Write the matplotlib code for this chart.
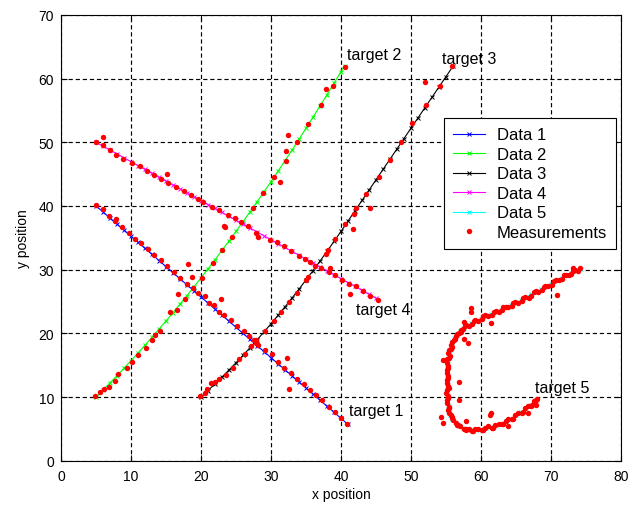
import matplotlib
matplotlib.use('Agg')
import matplotlib.pyplot as plt

plt.rcParams['font.family'] = ['Liberation Sans', 'DejaVu Sans']

# ---- estimated tracks (Data 1..5) ----
t1_x = [5, 6, 7, 8, 9, 10, 11, 12, 13, 14, 15, 16, 17, 18, 19, 20, 21, 22, 23, 24, 25,
        26, 27, 28, 29, 30, 31, 32, 33, 34, 35, 36, 37, 38, 39, 40, 41]
t1_y = [40.00, 39.05, 38.09, 37.14, 36.19, 35.24, 34.28, 33.33, 32.38, 31.42, 30.47,
        29.52, 28.56, 27.61, 26.66, 25.71, 24.75, 23.80, 22.85, 21.89, 20.94, 19.99,
        19.03, 18.08, 17.13, 16.18, 15.22, 14.27, 13.32, 12.36, 11.41, 10.46, 9.50,
        8.55, 7.60, 6.65, 5.69]

t2_x = [5, 6, 7, 8, 9, 10, 11, 12, 13, 14, 15, 16, 17, 18, 19, 20, 21, 22, 23, 24, 25,
        26, 27, 28, 29, 30, 31, 32, 33, 34, 35, 36, 37, 38, 39, 40, 40.5]
t2_y = [10.00, 11.10, 12.22, 13.36, 14.52, 15.70, 16.91, 18.13, 19.38, 20.65, 21.94,
        23.25, 24.58, 25.93, 27.31, 28.70, 30.12, 31.56, 33.02, 34.50, 36.00, 37.52,
        39.07, 40.63, 42.21, 43.82, 45.45, 47.10, 48.77, 50.45, 52.19, 53.92, 55.68,
        57.46, 59.26, 61.09, 62.00]

t3_x = [20, 21, 22, 23, 24, 25, 26, 27, 28, 29, 30, 31, 32, 33, 34, 35, 36, 37, 38, 39,
        40, 41, 42, 43, 44, 45, 46, 47, 48, 49, 50, 51, 52, 53, 54, 55, 56]
t3_y = [10.00, 11.02, 12.06, 13.14, 14.24, 15.38, 16.54, 17.74, 18.96, 20.22, 21.50,
        22.82, 24.16, 25.54, 26.94, 28.38, 29.84, 31.34, 32.86, 34.42, 36.00, 37.62,
        39.24, 40.86, 42.48, 44.10, 45.72, 47.34, 48.96, 50.58, 52.20, 53.82, 55.44,
        57.06, 58.68, 60.30, 61.92]

t4_x = [5, 6, 7, 8, 9, 10, 11, 12, 13, 14, 15, 16, 17, 18, 19, 20, 21, 22, 23, 24, 25,
        26, 27, 28, 29, 30, 31, 32, 33, 34, 35, 36, 37, 38, 39, 40, 41, 42, 43, 44, 45]
t4_y = [50.00, 49.39, 48.78, 48.16, 47.55, 46.94, 46.33, 45.72, 45.10, 44.49, 43.88,
        43.27, 42.66, 42.04, 41.43, 40.82, 40.21, 39.60, 38.98, 38.37, 37.76, 37.15,
        36.54, 35.92, 35.31, 34.70, 34.09, 33.48, 32.86, 32.25, 31.64, 31.03, 30.42,
        29.80, 29.19, 28.58, 27.97, 27.36, 26.74, 26.13, 25.52]

t5_x = [74.3, 73.6, 72.9, 72.2, 71.5, 70.8, 70.0, 69.3, 68.6, 67.9, 67.1, 66.4, 65.7,
        65.0, 64.3, 63.6, 62.9, 62.2, 61.4, 60.7, 60.0, 59.3, 58.6, 58.0, 57.5, 57.0,
        56.6, 56.2, 55.9, 55.7, 55.5, 55.4, 55.3, 55.2, 55.2, 55.2, 55.2, 55.2, 55.2,
        55.2, 55.2, 55.3, 55.4, 55.6, 55.9, 56.3, 56.8, 57.4, 58.0, 58.6, 59.3, 60.0,
        60.7, 61.4, 62.1, 62.9, 63.6, 64.3, 65.0, 65.7, 66.4, 67.1, 67.6, 68.0]
t5_y = [30.1, 29.8, 29.5, 29.1, 28.7, 28.3, 27.8, 27.4, 26.9, 26.5, 26.1, 25.6, 25.2,
        24.8, 24.4, 24.1, 23.7, 23.4, 23.0, 22.7, 22.3, 22.0, 21.6, 21.2, 20.8, 20.3,
        19.8, 19.2, 18.6, 17.9, 17.2, 16.5, 15.8, 15.0, 14.2, 13.4, 12.6, 11.8, 11.0,
        10.2, 9.4, 8.6, 7.9, 7.2, 6.6, 6.0, 5.5, 5.1, 4.9, 4.8, 4.8, 4.9, 5.1, 5.3,
        5.5, 5.8, 6.2, 6.6, 7.1, 7.6, 8.1, 8.7, 9.2, 9.6]

# ---- measurements ----
m1_x = [5.0, 6.0, 6.9, 7.7, 7.9, 8.7, 9.7, 10.5, 11.4, 12.4, 13.3, 14.3, 15.2, 16.2,
        17.0, 18.0, 18.2, 18.7, 19.5, 20.5, 21.2, 21.9, 22.6, 22.9, 23.3, 24.3, 25.2,
        26.2, 26.9, 27.6, 27.9, 28.2, 29.2, 30.1, 31.0, 31.9, 32.3, 32.6, 32.8, 33.7,
        34.7, 35.6, 36.4, 37.3, 38.3, 39.1, 40.0, 40.8]
m1_y = [40.2, 39.5, 38.4, 37.6, 37.9, 36.7, 35.8, 34.8, 34.2, 33.2, 32.3, 31.5, 30.5,
        29.6, 28.7, 27.8, 30.9, 28.9, 26.3, 25.8, 24.7, 24.5, 23.4, 25.4, 22.9, 22.1,
        21.2, 20.3, 19.6, 19.0, 18.5, 18.2, 17.4, 16.7, 15.5, 14.6, 16.1, 11.2, 13.7,
        12.9, 12.1, 11.1, 10.3, 9.5, 8.4, 7.7, 6.7, 5.8]

m2_x = [4.8, 5.6, 6.2, 6.8, 7.7, 8.1, 9.4, 10.1, 11.0, 12.2, 13.0, 13.4, 14.2, 15.5,
        16.6, 16.7, 17.7, 18.8, 20.2, 21.7, 23.0, 23.3, 24.4, 25.7, 27.4, 28.8, 30.4,
        31.3, 32.1, 32.2, 32.4, 33.7, 35.3, 37.1, 37.8, 38.8, 40.6]
m2_y = [10.1, 10.8, 11.2, 11.6, 12.5, 13.6, 14.5, 15.5, 16.6, 17.7, 18.9, 19.7, 20.4,
        23.3, 23.7, 26.1, 25.4, 27.1, 28.7, 31.1, 33.1, 36.8, 35.1, 37.4, 39.7, 42.1,
        44.6, 43.7, 47.1, 48.6, 51.1, 50.0, 52.9, 55.8, 58.3, 58.9, 61.8]

m3_x = [19.9, 20.5, 20.9, 21.4, 22.0, 22.6, 23.5, 24.5, 25.4, 26.3, 27.2, 27.9, 29.2,
        30.4, 31.4, 32.5, 33.7, 35.0, 35.3, 36.3, 37.8, 38.1, 39.2, 40.6, 41.7, 41.8,
        42.2, 43.6, 44.1, 45.4, 47.0, 48.6, 50.2, 52.0, 52.1, 54.1, 55.8]
m3_y = [10.1, 10.6, 11.3, 12.2, 12.4, 12.9, 13.5, 14.6, 15.9, 16.8, 18.0, 18.9, 20.4,
        21.9, 23.4, 24.9, 26.4, 28.3, 28.9, 30.5, 32.4, 33.0, 34.8, 37.1, 36.3, 38.7,
        39.7, 41.9, 39.6, 44.6, 47.2, 50.1, 53.0, 59.4, 55.9, 58.9, 61.9]

m4_x = [5.0, 6.0, 6.0, 7.0, 7.9, 8.9, 10.1, 11.3, 12.3, 13.3, 14.3, 15.1, 15.3, 16.4,
        17.5, 18.6, 19.5, 20.3, 21.6, 22.6, 23.4, 23.8, 24.8, 26.7, 27.9, 28.1, 29.8,
        30.8, 31.9, 32.9, 34.0, 34.9, 35.5, 37.1, 38.3, 38.4, 39.1, 40.1, 41.1, 41.3,
        42.1, 43.2, 44.2, 45.3]
m4_y = [50.1, 50.8, 49.5, 48.8, 48.0, 47.4, 46.8, 46.3, 45.5, 44.9, 44.2, 45.0, 43.6,
        42.9, 42.3, 41.7, 41.1, 40.6, 39.8, 39.4, 36.7, 38.6, 38.1, 36.8, 35.8, 35.1,
        34.7, 34.3, 33.7, 32.9, 32.2, 31.6, 31.2, 30.2, 29.7, 30.3, 29.1, 28.4, 27.7,
        26.1, 27.4, 26.6, 25.9, 25.3]

m5_x = [74.2, 73.4, 72.8, 72.1, 71.6, 70.7, 70.1, 69.2, 68.7, 67.8, 67.2, 66.3, 65.8,
        64.9, 64.4, 63.5, 63.0, 62.1, 61.5, 60.6, 60.1, 59.2, 58.7, 57.9, 57.4, 57.1,
        56.5, 56.3, 55.8, 55.8, 55.4, 55.5, 55.2, 55.3, 55.1, 55.3, 55.1, 55.3, 55.1,
        55.3, 55.1, 55.4, 55.3, 55.7, 55.8, 56.4, 56.7, 57.5, 57.9, 58.7, 59.2, 60.1,
        60.6, 61.5, 62.0, 63.0, 63.5, 64.4, 64.9, 65.8, 66.3, 67.2, 67.5, 68.0,
        73.1, 70.8, 58.5, 58.5, 57.5, 61.4, 57.5, 58.1, 54.5, 56.9, 56.8, 54.3, 54.5,
        57.8, 61.4, 61.3, 63.9, 66.7, 67.9,
        73.9, 73.2, 72.5, 71.8, 71.1, 70.4, 69.6, 69.0, 68.2, 67.5, 66.8, 66.0, 65.3,
        64.6, 63.9, 63.2, 62.5, 61.8, 61.0, 60.3, 59.6, 59.0, 58.3, 57.7, 57.2, 56.8,
        56.4, 56.1, 55.7, 55.7, 55.3, 55.4, 55.1, 55.3, 55.1, 55.3, 55.1, 55.4, 55.0,
        55.3, 55.1, 55.4, 55.4, 55.8, 56.0, 56.6, 57.0, 57.8, 58.3, 58.9, 59.6, 60.3,
        61.0, 61.7, 62.5, 63.2, 63.9, 64.6, 65.3, 66.0, 66.7, 67.3, 67.8]
m5_y = [30.2, 29.9, 29.3, 29.2, 28.5, 28.4, 27.6, 27.5, 26.8, 26.6, 25.9, 25.7, 25.1,
        24.9, 24.3, 24.2, 23.6, 23.5, 22.9, 22.8, 22.2, 22.1, 21.5, 21.3, 20.7, 20.2,
        19.9, 19.1, 18.7, 17.8, 17.3, 16.4, 15.9, 14.9, 14.3, 13.3, 12.7, 11.7, 11.1,
        10.1, 9.5, 8.5, 8.0, 7.1, 6.7, 5.9, 5.6, 5.0, 5.0, 4.7, 4.9, 4.8, 5.2, 5.2,
        5.6, 5.7, 6.3, 6.5, 7.2, 7.5, 8.2, 8.6, 9.3, 9.7,
        30.2, 26.0, 24.0, 23.4, 21.8, 21.6, 19.1, 18.5, 15.8, 12.4, 9.5, 6.9, 5.9,
        6.2, 7.5, 7.1, 5.4, 7.5, 8.7,
        29.8, 29.8, 29.1, 29.1, 28.3, 28.2, 27.4, 27.3, 26.5, 26.5, 25.6, 25.6, 24.8,
        24.8, 24.1, 24.1, 23.3, 23.4, 22.7, 22.7, 22.0, 22.0, 21.2, 21.2, 20.5, 20.1,
        19.5, 18.9, 18.2, 17.5, 16.9, 16.1, 15.4, 14.6, 13.8, 13.0, 12.2, 11.4, 10.6,
        9.8, 9.0, 8.2, 7.5, 6.8, 6.4, 5.6, 5.4, 4.8, 5.0, 4.6, 5.0, 4.8, 5.4, 5.2,
        5.8, 5.8, 6.6, 6.6, 7.5, 7.6, 8.6, 8.7, 9.5]

labels = ['Data 1', 'Data 2', 'Data 3', 'Data 4', 'Data 5']
colors = ['#0000ff', '#00ff00', '#000000', '#ff00ff', '#00ffff']

targets = ['target 1', 'target 2', 'target 3', 'target 4', 'target 5']
target_pos = [(41.2, 7.9), (40.8, 63.7), (54.5, 63.2), (42.2, 23.8), (67.7, 11.5)]

fig = plt.figure(figsize=(6.31, 5.06), dpi=100)
ax = fig.add_axes([61 / 631, 44.3 / 506, 560 / 631, 445.9 / 506])

tracks = [(t1_x, t1_y), (t2_x, t2_y), (t3_x, t3_y), (t4_x, t4_y), (t5_x, t5_y)]
for (tx, ty), c, lab in zip(tracks, colors, labels):
    ax.plot(tx, ty, color=c, lw=0.8, marker='x', ms=3.2, mew=0.7, label=lab, zorder=3)

mx = m1_x + m2_x + m3_x + m4_x + m5_x
my = m1_y + m2_y + m3_y + m4_y + m5_y
ax.plot(mx, my, ls='none', marker='o', ms=3.9, color='red', mec='none',
        label='Measurements', zorder=4)

for txt, (px, py) in zip(targets, target_pos):
    ax.text(px, py, txt, fontsize=11.5, ha='left', va='center')

ax.set_xlim(0, 80)
ax.set_ylim(0, 70)
ax.set_xticks([0, 10, 20, 30, 40, 50, 60, 70, 80])
ax.set_yticks([0, 10, 20, 30, 40, 50, 60, 70])
ax.grid(True, color='k', linestyle=(0, (3.6, 2.4)), linewidth=0.85)
ax.set_axisbelow(True)
ax.tick_params(direction='in', top=True, right=True, length=4, labelsize=10)
ax.tick_params(axis='x', pad=6)
ax.tick_params(axis='y', pad=5)
for s in ax.spines.values():
    s.set_linewidth(0.8)

ax.set_xlabel('x position', fontsize=10, labelpad=3)
ax.set_ylabel('y position', fontsize=10, labelpad=6)

leg = ax.legend(loc='upper right', bbox_to_anchor=(0.991, 0.768), fontsize=12,
                fancybox=False, edgecolor='k', framealpha=1, borderaxespad=0,
                handlelength=1.9, handletextpad=0.7, labelspacing=0.27, borderpad=0.55)
leg.get_frame().set_linewidth(0.8)

fig.savefig('out.png', dpi=100)
